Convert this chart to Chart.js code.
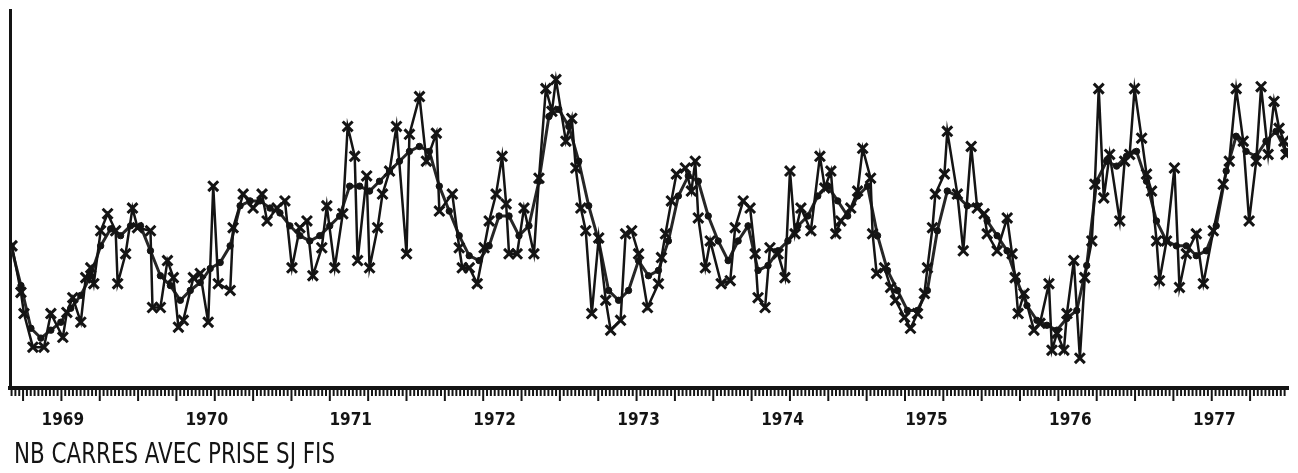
<!DOCTYPE html>
<html>
<head>
<meta charset="utf-8">
<script src="https://cdn.jsdelivr.net/npm/chart.js@4"></script>
<style>
  html, body { margin: 0; padding: 0; background: #fff; }
  #wrap { width: 1298px; height: 473px; }
</style>
</head>
<body>
<div id="wrap"><canvas id="chart"></canvas></div>
<script>
// raw counts per period (x markers)
const rawYears = [
  1968.647, 1968.709, 1968.730, 1968.792, 1968.869, 1968.917, 1969.000, 1969.028, 1969.069, 1969.125,
  1969.159, 1969.194, 1969.215, 1969.263, 1969.311, 1969.367, 1969.381, 1969.436, 1969.484, 1969.519,
  1969.609, 1969.623, 1969.678, 1969.727, 1969.768, 1969.803, 1969.837, 1969.907, 1969.955, 1970.010,
  1970.045, 1970.080, 1970.163, 1970.183, 1970.253, 1970.322, 1970.384, 1970.419, 1970.488, 1970.543,
  1970.592, 1970.647, 1970.696, 1970.737, 1970.799, 1970.834, 1970.889, 1970.945, 1970.979, 1971.028,
  1971.048, 1971.111, 1971.131, 1971.187, 1971.221, 1971.270, 1971.318, 1971.388, 1971.408, 1971.478,
  1971.526, 1971.595, 1971.616, 1971.706, 1971.754, 1971.775, 1971.824, 1971.879, 1971.927, 1971.962,
  1972.010, 1972.052, 1972.080, 1972.100, 1972.156, 1972.204, 1972.273, 1972.308, 1972.356, 1972.398,
  1972.426, 1972.495, 1972.536, 1972.564, 1972.599, 1972.633, 1972.675, 1972.723, 1972.772, 1972.806,
  1972.875, 1972.910, 1972.952, 1973.000, 1973.062, 1973.138, 1973.159, 1973.187, 1973.228, 1973.263,
  1973.325, 1973.367, 1973.394, 1973.415, 1973.464, 1973.498, 1973.574, 1973.637, 1973.671, 1973.727,
  1973.775, 1973.810, 1973.830, 1973.879, 1973.913, 1973.969, 1974.017, 1974.052, 1974.087, 1974.128,
  1974.197, 1974.260, 1974.294, 1974.336, 1974.370, 1974.405, 1974.474, 1974.522, 1974.557, 1974.612,
  1974.626, 1974.654, 1974.709, 1974.751, 1974.785, 1974.848, 1974.889, 1974.938, 1974.986, 1975.007,
  1975.042, 1975.062, 1975.125, 1975.145, 1975.215, 1975.256, 1975.311, 1975.353, 1975.401, 1975.422,
  1975.491, 1975.561, 1975.595, 1975.616, 1975.637, 1975.678, 1975.747, 1975.789, 1975.851, 1975.872,
  1975.907, 1975.955, 1975.976, 1976.024, 1976.066, 1976.100, 1976.149, 1976.170, 1976.197, 1976.232,
  1976.273, 1976.343, 1976.377, 1976.412, 1976.446, 1976.495, 1976.529, 1976.564, 1976.599, 1976.619,
  1976.668, 1976.723, 1976.758, 1976.806, 1976.875, 1976.924, 1976.993, 1977.062, 1977.104, 1977.152,
  1977.201, 1977.242, 1977.291, 1977.325, 1977.374, 1977.415, 1977.450, 1977.484, 1977.498
];
const rawCounts = [
  37.6, 25.3, 19.7, 10.8, 10.8, 19.7, 13.4, 20.0, 23.9, 17.4,
  29.2, 31.8, 27.6, 41.6, 46.1, 41.6, 27.6, 35.5, 47.6, 42.4,
  41.6, 21.3, 21.3, 33.7, 29.2, 16.1, 17.9, 29.2, 30.3, 17.4,
  53.4, 27.6, 25.8, 42.4, 51.3, 47.6, 51.3, 44.2, 47.6, 49.5,
  31.8, 42.4, 44.2, 29.7, 37.1, 48.2, 31.8, 46.1, 69.2, 61.3,
  33.7, 56.1, 31.8, 42.4, 51.3, 57.4, 69.2, 35.5, 67.1, 77.1,
  60.0, 67.4, 46.8, 51.3, 37.1, 31.8, 31.8, 27.6, 37.1, 44.2,
  51.3, 61.3, 48.7, 35.5, 35.5, 47.6, 35.5, 55.5, 79.2, 73.2,
  81.6, 65.3, 71.3, 58.2, 47.6, 41.6, 19.7, 39.7, 23.2, 15.3,
  17.9, 40.8, 41.6, 35.5, 21.3, 27.6, 34.5, 40.8, 49.5, 56.6,
  58.2, 52.1, 60.0, 45.0, 31.8, 38.9, 27.6, 28.4, 42.4, 49.5,
  47.6, 35.5, 23.9, 21.3, 37.1, 35.5, 29.2, 57.4, 40.8, 47.6,
  41.6, 61.3, 52.9, 57.4, 40.8, 44.2, 47.6, 52.1, 63.4, 55.5,
  40.8, 30.3, 31.8, 26.6, 23.2, 18.7, 15.8, 19.7, 25.0, 31.8,
  42.4, 51.3, 56.6, 67.9, 51.3, 36.3, 63.9, 47.6, 46.1, 40.8,
  36.3, 45.0, 35.5, 29.2, 19.7, 25.0, 15.3, 17.1, 27.6, 10.0,
  14.5, 10.0, 19.7, 33.7, 7.9, 29.2, 38.9, 53.9, 79.2, 50.3,
  61.8, 44.2, 60.0, 61.8, 79.2, 66.1, 56.6, 52.1, 38.9, 28.4,
  38.9, 58.2, 26.6, 35.5, 40.8, 27.6, 41.6, 53.9, 60.0, 79.2,
  65.3, 44.2, 60.0, 79.7, 61.8, 75.8, 68.7, 65.3, 61.8
];

// smoothed series (dotted line), one value every ~25 days
const smoothStart = 1968.640;
const smoothStep = 0.0692;
const smoothCounts = [
  37.6, 27.1, 15.8, 13.2, 15.3, 17.4, 21.1, 24.5, 29.7, 37.6,
  42.1, 40.3, 42.9, 42.9, 36.3, 29.7, 27.1, 23.2, 25.8, 27.9,
  31.6, 33.2, 37.6, 48.2, 49.5, 49.5, 47.6, 46.3, 42.9, 40.3,
  38.9, 40.3, 42.9, 45.5, 53.4, 53.4, 52.1, 54.7, 57.4, 60.0,
  62.6, 63.9, 62.6, 53.4, 46.8, 40.3, 35.0, 33.7, 37.6, 45.5,
  45.5, 40.3, 42.9, 54.7, 71.8, 73.7, 69.2, 60.0, 48.2, 38.9,
  25.8, 23.2, 25.8, 33.7, 29.7, 31.1, 38.9, 50.8, 56.1, 54.7,
  45.5, 38.9, 33.7, 38.9, 42.9, 31.1, 32.4, 36.3, 38.9, 42.9,
  45.5, 50.8, 53.4, 49.5, 45.5, 50.8, 53.4, 40.3, 31.1, 25.8,
  20.5, 20.5, 25.8, 41.6, 52.1, 50.8, 48.2, 48.2, 44.2, 40.3,
  36.3, 28.4, 21.8, 17.9, 16.6, 15.3, 18.4, 20.5, 32.4, 54.7,
  60.0, 58.7, 61.3, 62.6, 54.7, 44.2, 38.9, 37.6, 37.6, 35.0,
  36.3, 42.9, 57.4, 66.6, 62.6, 61.3, 65.3, 67.9, 62.6
];

const yearTicks = [1969, 1970, 1971, 1972, 1973, 1974, 1975, 1976, 1977];
const yearLabels = ["1969", "1970", "1971", "1972", "1973", "1974", "1975", "1976", "1977"];
const chartTitle = "NB CARRES AVEC PRISE SJ FIS";

const ink = "#141414";
const narrow = "'Liberation Sans Narrow', 'DejaVu Sans Condensed', 'Liberation Sans', sans-serif";

// comb of short ticks (one per period) and long ticks (every 10th) under the axis
const combStep = 0.02664;
const combAnchor = 1970.855;
const axisComb = {
  id: "axisComb",
  afterDraw(chart) {
    const xs = chart.scales.x;
    const c = chart.ctx;
    const y0 = chart.chartArea.bottom;
    c.save();
    c.strokeStyle = ink;
    c.lineWidth = 2;
    const first = Math.ceil((xs.min - combAnchor) / combStep);
    const last = Math.floor((xs.max - combAnchor) / combStep);
    for (let i = first; i <= last; i++) {
      const px = xs.getPixelForValue(combAnchor + i * combStep);
      const len = ((i % 10) + 10) % 10 === 0 ? 13 : 8;
      c.beginPath();
      c.moveTo(px, y0);
      c.lineTo(px, y0 + len);
      c.stroke();
    }
    c.restore();
  }
};

// tall condensed caption at the bottom left, squeezed like the plotter lettering
const caption = {
  id: "caption",
  afterDraw(chart) {
    const c = chart.ctx;
    c.save();
    c.font = "29px " + narrow;
    c.fillStyle = ink;
    c.textBaseline = "alphabetic";
    const w = c.measureText(chartTitle).width;
    c.translate(14, 463);
    c.scale(321 / w, 1);
    c.fillText(chartTitle, 0, 0);
    c.restore();
  }
};

const ctx = document.getElementById("chart").getContext("2d");
new Chart(ctx, {
  type: "line",
  data: {
    datasets: [
      {
        label: "brut",
        data: rawYears.map((x, i) => ({ x: x, y: rawCounts[i] })),
        borderColor: ink,
        borderWidth: 2.5,
        pointStyle: "crossRot",
        pointRadius: 7,
        pointBorderWidth: 3,
        pointBorderColor: ink,
        tension: 0
      },
      {
        label: "lisse",
        data: smoothCounts.map((y, i) => ({ x: smoothStart + i * smoothStep, y: y })),
        borderColor: "#262626",
        borderWidth: 3,
        pointStyle: "circle",
        pointRadius: 3.2,
        pointBackgroundColor: ink,
        pointBorderColor: ink,
        pointBorderWidth: 1,
        tension: 0
      }
    ]
  },
  options: {
    responsive: true,
    maintainAspectRatio: false,
    animation: false,
    devicePixelRatio: 1,
    layout: { padding: { left: 9, top: 8, right: 6, bottom: 38 } },
    plugins: {
      legend: { display: false },
      tooltip: { enabled: false },
      title: { display: false }
    },
    scales: {
      x: {
        type: "linear",
        min: 1968.633,
        max: 1977.512,
        grid: { display: false, drawTicks: false },
        border: { display: true, color: ink, width: 4 },
        afterBuildTicks: (s) => { s.ticks = yearTicks.map((v) => ({ value: v })); },
        afterFit: (s) => { s.height = 47; },
        ticks: {
          autoSkip: false,
          maxRotation: 0,
          padding: 22,
          color: ink,
          font: { family: narrow, size: 17, weight: "bold" },
          callback: (v, i) => yearLabels[i]
        }
      },
      y: {
        min: 0,
        max: 100,
        grid: { display: false, drawTicks: false },
        border: { display: true, color: ink, width: 3 },
        ticks: { display: false },
        afterFit: (s) => { s.width = 0; }
      }
    }
  },
  plugins: [axisComb, caption]
});
</script>
</body>
</html>
